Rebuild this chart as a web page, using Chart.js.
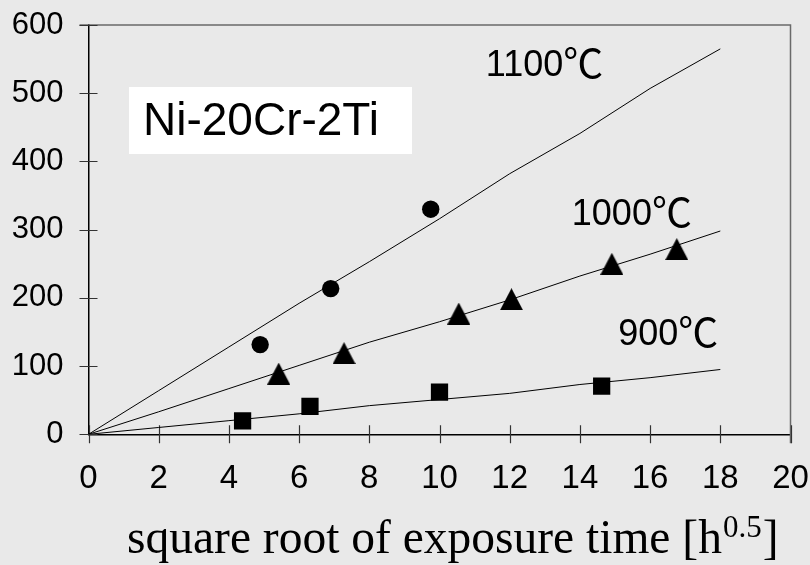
<!DOCTYPE html>
<html>
<head>
<meta charset="utf-8">
<script src="https://cdn.jsdelivr.net/npm/chart.js@4/dist/chart.umd.min.js"></script>
<style>
  html, body { margin: 0; padding: 0; background: #e9e9e9; }
  #wrap { position: relative; width: 810px; height: 565px; }
</style>
</head>
<body>
<div id="wrap"><canvas id="chart"></canvas></div>
<script>
// fitted parabolic-rate curves, sampled every 2 h^0.5
const fitX = [0, 2, 4, 6, 8, 10, 12, 14, 16, 18];
const fit1100 = [0, 64, 128, 192, 253, 316, 382, 441, 507, 565];
const fit1000 = [0, 33, 67, 101, 135, 165, 197, 232, 264, 298];
const fit900 = [0, 10, 20, 30, 42, 51, 60, 73, 83, 95];

// measured points
const x1100 = [4.89, 6.9, 9.75];
const y1100 = [131.5, 213.6, 330];
const x1000 = [5.42, 7.28, 10.55, 12.05, 14.91, 16.76];
const y1000 = [89, 119, 177, 198, 250, 271.5];
const x900 = [4.39, 6.31, 10.0, 14.62];
const y900 = [19.5, 41, 62, 70.8];

const curveTemps = ['1100', '1000', '900'];
const curveNameX = [11.32, 13.77, 15.09];
const curveNameY = [525, 306.8, 130.9];
const degC = '℃';

const alloy = 'Ni-20Cr-2Ti';
const xTitle = 'square root of exposure time [h';
const xTitleExp = '0.5';

const pairs = (xs, ys) => xs.map((v, i) => ({ x: v, y: ys[i] }));

const sansFont = '"Liberation Sans", Arial, sans-serif';
const cjkFont = '"Noto Sans CJK JP", sans-serif';
const serifFont = '"Liberation Serif", "Times New Roman", serif';

// filled triangle marker, a bit taller than equilateral
const triangleMark = (() => {
  const c = document.createElement('canvas');
  c.width = 23;
  c.height = 22;
  const g = c.getContext('2d');
  g.fillStyle = '#000';
  g.beginPath();
  g.moveTo(0, 22);
  g.lineTo(11.5, 0);
  g.lineTo(23, 22);
  g.closePath();
  g.fill();
  return c;
})();

const fitLine = (values) => ({
  data: pairs(fitX, values),
  showLine: true,
  borderColor: '#000',
  borderWidth: 1,
  pointRadius: 0,
  tension: 0,
});

const markers = (xs, ys, style, radius) => ({
  data: pairs(xs, ys),
  showLine: false,
  pointStyle: style,
  pointRadius: radius,
  pointHoverRadius: radius,
  pointBackgroundColor: '#000',
  pointBorderColor: '#000',
  pointBorderWidth: 0,
});

const decor = {
  id: 'decor',
  beforeDatasetsDraw(chart) {
    const { ctx, chartArea: a, scales: { x, y } } = chart;
    ctx.save();
    // top and right frame
    ctx.strokeStyle = '#6a6a6a';
    ctx.lineWidth = 1.5;
    ctx.beginPath();
    ctx.moveTo(a.left - 9, a.top);
    ctx.lineTo(a.right, a.top);
    ctx.lineTo(a.right, a.bottom + 9);
    ctx.stroke();

    // tick marks crossing the axes
    ctx.strokeStyle = '#333';
    ctx.lineWidth = 1.2;
    ctx.beginPath();
    x.ticks.forEach((t) => {
      const px = Math.round(x.getPixelForValue(t.value)) + 0.5;
      ctx.moveTo(px, a.bottom - 9);
      ctx.lineTo(px, a.bottom + 9);
    });
    y.ticks.forEach((t) => {
      const py = Math.round(y.getPixelForValue(t.value)) + 0.5;
      ctx.moveTo(a.left - 9, py);
      ctx.lineTo(a.left + 9, py);
    });
    ctx.stroke();

    // alloy name box
    ctx.fillStyle = '#fff';
    ctx.fillRect(129, 87, 283, 67);
    ctx.fillStyle = '#000';
    ctx.font = '46px ' + sansFont;
    ctx.textBaseline = 'alphabetic';
    ctx.fillText(alloy, 143, 135);
    ctx.restore();
  },
  afterDraw(chart) {
    const { ctx, scales: { x, y } } = chart;
    ctx.save();
    ctx.fillStyle = '#000';
    ctx.textBaseline = 'alphabetic';
    curveTemps.forEach((temp, i) => {
      const px = x.getPixelForValue(curveNameX[i]);
      const py = y.getPixelForValue(curveNameY[i]);
      ctx.font = '36px ' + sansFont;
      ctx.fillText(temp, px, py);
      const w = ctx.measureText(temp).width;
      ctx.font = '40px ' + cjkFont;
      ctx.fillText(degC, px + w, py + 2);
    });

    // axis title with superscript exponent
    const base = 553;
    let cx = 127;
    ctx.font = '47.5px ' + serifFont;
    ctx.fillText(xTitle, cx, base);
    cx += ctx.measureText(xTitle).width;
    ctx.font = '31px ' + serifFont;
    ctx.fillText(xTitleExp, cx + 1, base - 16);
    cx += ctx.measureText(xTitleExp).width + 2;
    ctx.font = '47.5px ' + serifFont;
    ctx.fillText(']', cx, base);
    ctx.restore();
  },
};

new Chart(document.getElementById('chart'), {
  type: 'scatter',
  data: {
    datasets: [
      fitLine(fit1100),
      fitLine(fit1000),
      fitLine(fit900),
      markers(x1100, y1100, 'circle', 8.7),
      markers(x1000, y1000, triangleMark, 11),
      markers(x900, y900, 'rect', 12.2),
    ],
  },
  options: {
    responsive: true,
    maintainAspectRatio: false,
    animation: false,
    layout: { padding: { top: 25, right: 19.5, left: 0, bottom: 0 } },
    plugins: {
      legend: { display: false },
      tooltip: { enabled: false },
    },
    scales: {
      x: {
        type: 'linear',
        min: 0,
        max: 20,
        afterFit: (scale) => {
          scale.height = 130.7;
          scale.paddingLeft = 0;
          scale.paddingRight = 0;
        },
        grid: { drawOnChartArea: false, drawTicks: false },
        border: { color: '#000', width: 1.5 },
        ticks: {
          stepSize: 2,
          padding: 25,
          color: '#000',
          font: { family: sansFont, size: 33 },
        },
      },
      y: {
        min: 0,
        max: 600,
        afterFit: (scale) => {
          scale.width = 88.5;
          scale.paddingTop = 0;
          scale.paddingBottom = 0;
        },
        grid: { drawOnChartArea: false, drawTicks: false },
        border: { color: '#000', width: 1.5 },
        ticks: {
          stepSize: 100,
          padding: 25,
          color: '#000',
          font: { family: sansFont, size: 31 },
        },
      },
    },
  },
  plugins: [decor],
});
</script>
</body>
</html>
